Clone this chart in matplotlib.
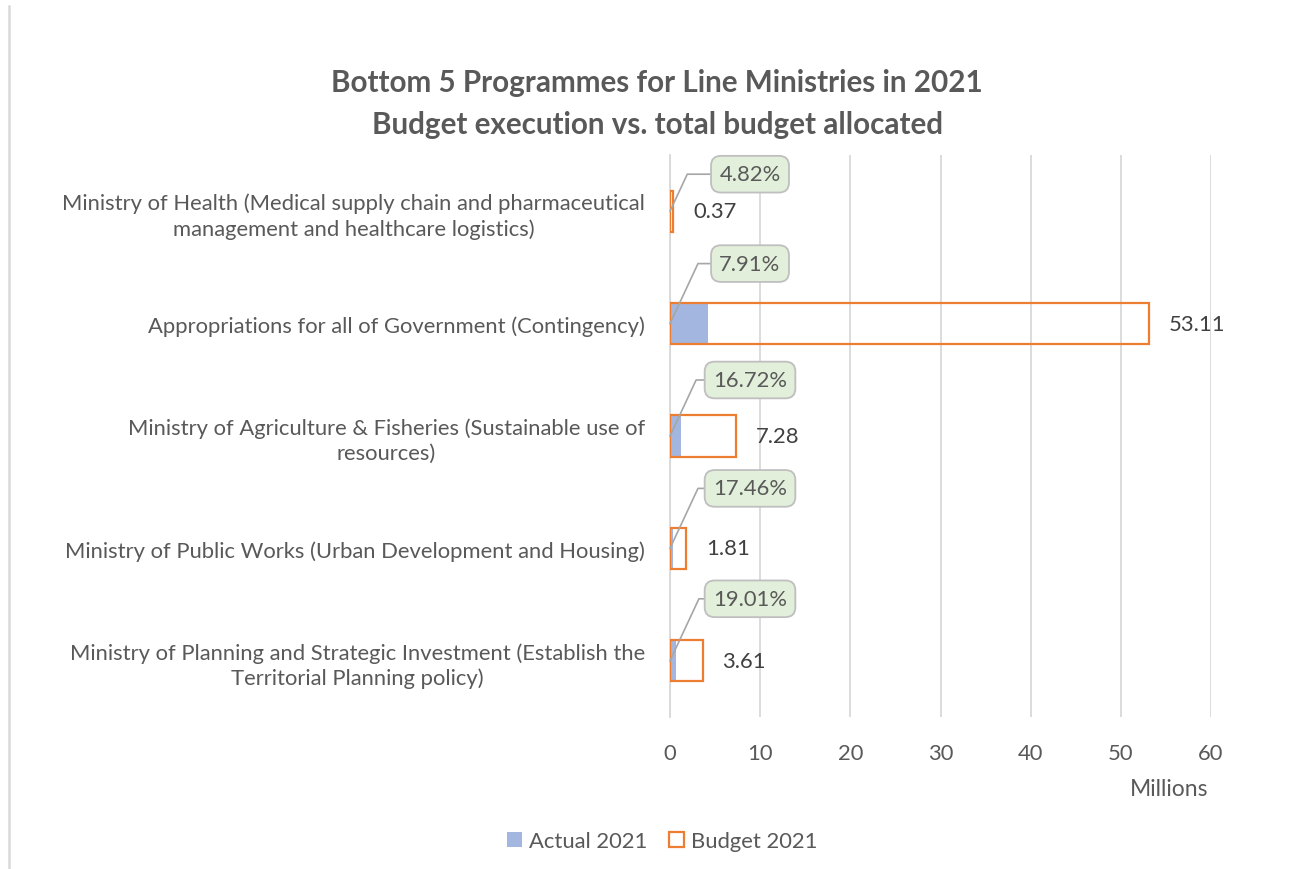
import matplotlib
matplotlib.use("Agg")
import matplotlib.pyplot as plt
from matplotlib.patches import Patch
from matplotlib.lines import Line2D

plt.rcParams["font.family"] = ["Lato", "DejaVu Sans"]

# --- data (millions) ---
programmes = [
    "Ministry of Health (Medical supply chain and pharmaceutical\nmanagement and healthcare logistics)",
    "Appropriations for all of Government (Contingency)",
    "Ministry of Agriculture & Fisheries (Sustainable use of\nresources)",
    "Ministry of Public Works (Urban Development and Housing)",
    "Ministry of Planning and Strategic Investment (Establish the\nTerritorial Planning policy)",
]
budget_2021 = [0.37, 53.11, 7.28, 1.81, 3.61]
actual_2021 = [0.02, 4.20, 1.22, 0.32, 0.69]
execution_pct = ["4.82%", "7.91%", "16.72%", "17.46%", "19.01%"]
x_ticks = [0, 10, 20, 30, 40, 50, 60]

# callout offsets above each bar (pixels); the top one is squeezed by the plot edge
callout_dy = [37, 60, 56, 60, 62]

TEXT = "#595959"
GRID = "#D9D9D9"
BLUE = "#A2B6E0"
ORANGE = "#ED7D31"
FS = 15.8

fig = plt.figure(figsize=(12.92, 8.70), dpi=100)
ax = fig.add_axes([670 / 1292, 1 - 718 / 870, 541 / 1292, 562 / 870])

y = list(range(len(programmes)))
ax.barh(y, actual_2021, height=0.365, color=BLUE, zorder=2)
ax.barh(y, budget_2021, height=0.365, facecolor="none", edgecolor=ORANGE,
        linewidth=1.6, zorder=3)

ax.set_xlim(0, 60)
ax.set_ylim(len(programmes) - 0.5, -0.5)
ax.set_xticks(x_ticks)
ax.set_yticks(y)
ax.set_yticklabels(programmes, multialignment="center", linespacing=1.3)
ax.tick_params(axis="both", length=0, colors=TEXT, labelsize=FS)
ax.tick_params(axis="y", pad=18)
ax.tick_params(axis="x", pad=19)
ax.xaxis.grid(True, color=GRID, linewidth=1.3, zorder=0)
ax.set_axisbelow(True)
for side in ("top", "right", "bottom"):
    ax.spines[side].set_visible(False)
ax.spines["left"].set_color(GRID)
ax.spines["left"].set_linewidth(1.3)

# budget value labels at bar ends
for yi, b in zip(y, budget_2021):
    ax.annotate(f"{b:.2f}", xy=(b, yi), xytext=(20, 0), textcoords="offset pixels",
                ha="left", va="center", fontsize=FS, color="#404040")

# execution-rate callouts with leader lines
for yi, pct, dy in zip(y, execution_pct, callout_dy):
    ax.annotate(pct, xy=(0, yi), xytext=(80, dy), textcoords="offset pixels",
                ha="center", va="center", fontsize=FS, color=TEXT, zorder=5,
                bbox=dict(boxstyle="round,pad=0.38,rounding_size=0.45",
                          facecolor="#E2EFDA", edgecolor="#BFBFBF", linewidth=1.3),
                arrowprops=dict(arrowstyle="-", color="#A6A6A6", linewidth=1.2,
                                relpos=(0, 0.5), shrinkA=0, shrinkB=0,
                                connectionstyle="angle,angleA=0,angleB=65,rad=0"))

fig.text(1208 / 1292, 1 - 790 / 870, "Millions", ha="right", va="center",
         fontsize=16.5, color=TEXT)

fig.text(657 / 1292, 1 - 104 / 870,
         "Bottom 5 Programmes for Line Ministries in 2021\nBudget execution vs. total budget allocated",
         ha="center", va="center", fontsize=21.3, fontweight="bold", color=TEXT,
         linespacing=1.6)

handles = [Patch(facecolor=BLUE, edgecolor="none", label="Actual 2021"),
           Patch(facecolor="white", edgecolor=ORANGE, linewidth=1.6, label="Budget 2021")]
fig.legend(handles=handles, loc="center", bbox_to_anchor=(662 / 1292, 1 - 842 / 870),
           ncol=2, frameon=False, fontsize=FS, labelcolor=TEXT,
           handlelength=0.7, handleheight=0.7, handletextpad=0.3, columnspacing=1.0)

# chart border on the left edge
fig.add_artist(Line2D([9 / 1292, 9 / 1292], [0, 1 - 7 / 870], color=GRID,
                      linewidth=1.8, transform=fig.transFigure))

fig.savefig("out.png", dpi=100)
